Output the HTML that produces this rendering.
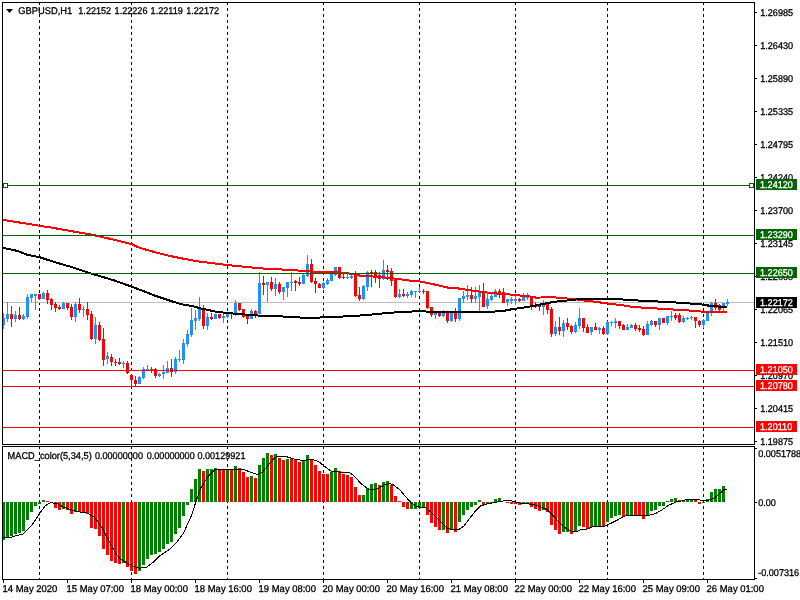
<!DOCTYPE html>
<html><head><meta charset="utf-8"><title>GBPUSD,H1</title>
<style>html,body{margin:0;padding:0;background:#fff;overflow:hidden}svg{display:block}text{font-family:"Liberation Sans",sans-serif;font-size:9.8px;fill:#000;stroke:#000;stroke-width:0.3px;text-rendering:geometricPrecision}.w{fill:#fff;stroke:#fff}</style></head><body>
<svg width="800" height="600" viewBox="0 0 800 600">
<rect width="800" height="600" fill="#fff"/>
<g shape-rendering="crispEdges">
<line x1="39.5" y1="2" x2="39.5" y2="444" stroke="#000" stroke-width="1" stroke-dasharray="3 3"/>
<line x1="39.5" y1="446" x2="39.5" y2="579" stroke="#000" stroke-width="1" stroke-dasharray="3 3" stroke-dashoffset="0"/>
<line x1="131.5" y1="2" x2="131.5" y2="444" stroke="#000" stroke-width="1" stroke-dasharray="3 3"/>
<line x1="131.5" y1="446" x2="131.5" y2="579" stroke="#000" stroke-width="1" stroke-dasharray="3 3" stroke-dashoffset="0"/>
<line x1="227.5" y1="2" x2="227.5" y2="444" stroke="#000" stroke-width="1" stroke-dasharray="3 3"/>
<line x1="227.5" y1="446" x2="227.5" y2="579" stroke="#000" stroke-width="1" stroke-dasharray="3 3" stroke-dashoffset="0"/>
<line x1="323.5" y1="2" x2="323.5" y2="444" stroke="#000" stroke-width="1" stroke-dasharray="3 3"/>
<line x1="323.5" y1="446" x2="323.5" y2="579" stroke="#000" stroke-width="1" stroke-dasharray="3 3" stroke-dashoffset="0"/>
<line x1="419.5" y1="2" x2="419.5" y2="444" stroke="#000" stroke-width="1" stroke-dasharray="3 3"/>
<line x1="419.5" y1="446" x2="419.5" y2="579" stroke="#000" stroke-width="1" stroke-dasharray="3 3" stroke-dashoffset="0"/>
<line x1="515.5" y1="2" x2="515.5" y2="444" stroke="#000" stroke-width="1" stroke-dasharray="3 3"/>
<line x1="515.5" y1="446" x2="515.5" y2="579" stroke="#000" stroke-width="1" stroke-dasharray="3 3" stroke-dashoffset="0"/>
<line x1="607.5" y1="2" x2="607.5" y2="444" stroke="#000" stroke-width="1" stroke-dasharray="3 3"/>
<line x1="607.5" y1="446" x2="607.5" y2="579" stroke="#000" stroke-width="1" stroke-dasharray="3 3" stroke-dashoffset="0"/>
<line x1="703.5" y1="2" x2="703.5" y2="444" stroke="#000" stroke-width="1" stroke-dasharray="3 3"/>
<line x1="703.5" y1="446" x2="703.5" y2="579" stroke="#000" stroke-width="1" stroke-dasharray="3 3" stroke-dashoffset="0"/>
<rect x="3" y="302" width="751" height="1" fill="#c0c0c0"/>
<rect x="3" y="313" width="1" height="16" fill="#1e90ff"/>
<rect x="3" y="318" width="2" height="7" fill="#1e90ff"/>
<rect x="7" y="302" width="1" height="20" fill="#1e90ff"/>
<rect x="6" y="314" width="3" height="5" fill="#1e90ff"/>
<rect x="11" y="306" width="1" height="21" fill="#ff0000"/>
<rect x="10" y="314" width="3" height="5" fill="#ff0000"/>
<rect x="15" y="311" width="1" height="11" fill="#1e90ff"/>
<rect x="14" y="315" width="3" height="4" fill="#1e90ff"/>
<rect x="19" y="307" width="1" height="13" fill="#ff0000"/>
<rect x="18" y="315" width="3" height="4" fill="#ff0000"/>
<rect x="23" y="314" width="1" height="6" fill="#1e90ff"/>
<rect x="22" y="316" width="3" height="3" fill="#1e90ff"/>
<rect x="27" y="294" width="1" height="25" fill="#1e90ff"/>
<rect x="26" y="297" width="3" height="20" fill="#1e90ff"/>
<rect x="31" y="294" width="1" height="8" fill="#1e90ff"/>
<rect x="30" y="294" width="3" height="4" fill="#1e90ff"/>
<rect x="35" y="294" width="1" height="16" fill="#1e90ff"/>
<rect x="34" y="294" width="3" height="2" fill="#1e90ff"/>
<rect x="39" y="294" width="1" height="6" fill="#ff0000"/>
<rect x="38" y="294" width="3" height="5" fill="#ff0000"/>
<rect x="43" y="292" width="1" height="7" fill="#1e90ff"/>
<rect x="42" y="293" width="3" height="6" fill="#1e90ff"/>
<rect x="47" y="290" width="1" height="14" fill="#ff0000"/>
<rect x="46" y="293" width="3" height="7" fill="#ff0000"/>
<rect x="51" y="298" width="1" height="12" fill="#ff0000"/>
<rect x="50" y="299" width="3" height="6" fill="#ff0000"/>
<rect x="55" y="302" width="1" height="10" fill="#ff0000"/>
<rect x="54" y="304" width="3" height="4" fill="#ff0000"/>
<rect x="59" y="305" width="1" height="5" fill="#ff0000"/>
<rect x="58" y="307" width="3" height="2" fill="#ff0000"/>
<rect x="63" y="302" width="1" height="7" fill="#1e90ff"/>
<rect x="62" y="303" width="3" height="6" fill="#1e90ff"/>
<rect x="67" y="303" width="1" height="7" fill="#ff0000"/>
<rect x="66" y="303" width="3" height="5" fill="#ff0000"/>
<rect x="71" y="304" width="1" height="16" fill="#ff0000"/>
<rect x="70" y="307" width="3" height="10" fill="#ff0000"/>
<rect x="75" y="302" width="1" height="20" fill="#1e90ff"/>
<rect x="74" y="304" width="3" height="13" fill="#1e90ff"/>
<rect x="79" y="298" width="1" height="15" fill="#ff0000"/>
<rect x="78" y="304" width="3" height="6" fill="#ff0000"/>
<rect x="83" y="306" width="1" height="11" fill="#1e90ff"/>
<rect x="82" y="309" width="3" height="1" fill="#1e90ff"/>
<rect x="87" y="302" width="1" height="18" fill="#ff0000"/>
<rect x="86" y="309" width="3" height="6" fill="#ff0000"/>
<rect x="91" y="311" width="1" height="29" fill="#ff0000"/>
<rect x="90" y="314" width="3" height="25" fill="#ff0000"/>
<rect x="95" y="317" width="1" height="27" fill="#1e90ff"/>
<rect x="94" y="325" width="3" height="14" fill="#1e90ff"/>
<rect x="99" y="322" width="1" height="19" fill="#ff0000"/>
<rect x="98" y="325" width="3" height="15" fill="#ff0000"/>
<rect x="103" y="328" width="1" height="38" fill="#ff0000"/>
<rect x="102" y="339" width="3" height="21" fill="#ff0000"/>
<rect x="107" y="352" width="1" height="12" fill="#1e90ff"/>
<rect x="106" y="356" width="3" height="3" fill="#1e90ff"/>
<rect x="111" y="354" width="1" height="12" fill="#ff0000"/>
<rect x="110" y="357" width="3" height="5" fill="#ff0000"/>
<rect x="115" y="359" width="1" height="7" fill="#ff0000"/>
<rect x="114" y="362" width="3" height="1" fill="#ff0000"/>
<rect x="119" y="358" width="1" height="7" fill="#ff0000"/>
<rect x="118" y="362" width="3" height="2" fill="#ff0000"/>
<rect x="123" y="361" width="1" height="7" fill="#1e90ff"/>
<rect x="122" y="363" width="3" height="1" fill="#1e90ff"/>
<rect x="127" y="361" width="1" height="13" fill="#ff0000"/>
<rect x="126" y="363" width="3" height="10" fill="#ff0000"/>
<rect x="131" y="374" width="1" height="13" fill="#ff0000"/>
<rect x="130" y="375" width="3" height="5" fill="#ff0000"/>
<rect x="135" y="376" width="1" height="10" fill="#ff0000"/>
<rect x="134" y="380" width="3" height="4" fill="#ff0000"/>
<rect x="139" y="376" width="1" height="8" fill="#1e90ff"/>
<rect x="138" y="377" width="3" height="7" fill="#1e90ff"/>
<rect x="143" y="367" width="1" height="12" fill="#1e90ff"/>
<rect x="142" y="369" width="3" height="9" fill="#1e90ff"/>
<rect x="147" y="365" width="1" height="5" fill="#1e90ff"/>
<rect x="146" y="369" width="3" height="1" fill="#1e90ff"/>
<rect x="151" y="367" width="1" height="6" fill="#ff0000"/>
<rect x="150" y="369" width="3" height="1" fill="#ff0000"/>
<rect x="155" y="368" width="1" height="10" fill="#ff0000"/>
<rect x="154" y="369" width="3" height="7" fill="#ff0000"/>
<rect x="159" y="373" width="1" height="4" fill="#1e90ff"/>
<rect x="158" y="374" width="3" height="2" fill="#1e90ff"/>
<rect x="163" y="365" width="1" height="14" fill="#1e90ff"/>
<rect x="162" y="372" width="3" height="2" fill="#1e90ff"/>
<rect x="167" y="361" width="1" height="12" fill="#1e90ff"/>
<rect x="166" y="368" width="3" height="5" fill="#1e90ff"/>
<rect x="171" y="359" width="1" height="18" fill="#ff0000"/>
<rect x="170" y="368" width="3" height="4" fill="#ff0000"/>
<rect x="175" y="357" width="1" height="17" fill="#1e90ff"/>
<rect x="174" y="359" width="3" height="13" fill="#1e90ff"/>
<rect x="179" y="350" width="1" height="12" fill="#1e90ff"/>
<rect x="178" y="359" width="3" height="1" fill="#1e90ff"/>
<rect x="183" y="339" width="1" height="25" fill="#1e90ff"/>
<rect x="182" y="343" width="3" height="17" fill="#1e90ff"/>
<rect x="187" y="330" width="1" height="17" fill="#1e90ff"/>
<rect x="186" y="334" width="3" height="10" fill="#1e90ff"/>
<rect x="191" y="308" width="1" height="29" fill="#1e90ff"/>
<rect x="190" y="320" width="3" height="15" fill="#1e90ff"/>
<rect x="195" y="310" width="1" height="20" fill="#1e90ff"/>
<rect x="194" y="318" width="3" height="3" fill="#1e90ff"/>
<rect x="199" y="297" width="1" height="24" fill="#1e90ff"/>
<rect x="198" y="308" width="3" height="11" fill="#1e90ff"/>
<rect x="203" y="305" width="1" height="24" fill="#ff0000"/>
<rect x="202" y="308" width="3" height="18" fill="#ff0000"/>
<rect x="207" y="313" width="1" height="17" fill="#1e90ff"/>
<rect x="206" y="317" width="3" height="9" fill="#1e90ff"/>
<rect x="211" y="313" width="1" height="7" fill="#ff0000"/>
<rect x="210" y="317" width="3" height="2" fill="#ff0000"/>
<rect x="215" y="314" width="1" height="5" fill="#1e90ff"/>
<rect x="214" y="314" width="3" height="5" fill="#1e90ff"/>
<rect x="219" y="314" width="1" height="5" fill="#ff0000"/>
<rect x="218" y="314" width="3" height="4" fill="#ff0000"/>
<rect x="223" y="314" width="1" height="9" fill="#1e90ff"/>
<rect x="222" y="316" width="3" height="2" fill="#1e90ff"/>
<rect x="227" y="313" width="1" height="5" fill="#1e90ff"/>
<rect x="226" y="314" width="3" height="3" fill="#1e90ff"/>
<rect x="231" y="314" width="1" height="5" fill="#ff0000"/>
<rect x="235" y="300" width="1" height="16" fill="#1e90ff"/>
<rect x="234" y="303" width="3" height="10" fill="#1e90ff"/>
<rect x="239" y="303" width="1" height="8" fill="#ff0000"/>
<rect x="238" y="303" width="3" height="7" fill="#ff0000"/>
<rect x="243" y="309" width="1" height="9" fill="#ff0000"/>
<rect x="242" y="309" width="3" height="8" fill="#ff0000"/>
<rect x="247" y="316" width="1" height="8" fill="#ff0000"/>
<rect x="246" y="316" width="3" height="3" fill="#ff0000"/>
<rect x="251" y="309" width="1" height="10" fill="#1e90ff"/>
<rect x="250" y="311" width="3" height="8" fill="#1e90ff"/>
<rect x="255" y="310" width="1" height="8" fill="#ff0000"/>
<rect x="254" y="311" width="3" height="3" fill="#ff0000"/>
<rect x="259" y="272" width="1" height="42" fill="#1e90ff"/>
<rect x="258" y="283" width="3" height="31" fill="#1e90ff"/>
<rect x="263" y="276" width="1" height="19" fill="#ff0000"/>
<rect x="262" y="283" width="3" height="2" fill="#ff0000"/>
<rect x="267" y="282" width="1" height="20" fill="#1e90ff"/>
<rect x="266" y="282" width="3" height="3" fill="#1e90ff"/>
<rect x="271" y="277" width="1" height="14" fill="#ff0000"/>
<rect x="270" y="282" width="3" height="7" fill="#ff0000"/>
<rect x="275" y="278" width="1" height="18" fill="#1e90ff"/>
<rect x="274" y="284" width="3" height="5" fill="#1e90ff"/>
<rect x="279" y="282" width="1" height="12" fill="#ff0000"/>
<rect x="278" y="284" width="3" height="8" fill="#ff0000"/>
<rect x="283" y="287" width="1" height="13" fill="#1e90ff"/>
<rect x="282" y="287" width="3" height="5" fill="#1e90ff"/>
<rect x="287" y="282" width="1" height="15" fill="#1e90ff"/>
<rect x="286" y="282" width="3" height="6" fill="#1e90ff"/>
<rect x="291" y="272" width="1" height="19" fill="#1e90ff"/>
<rect x="290" y="282" width="3" height="1" fill="#1e90ff"/>
<rect x="295" y="280" width="1" height="11" fill="#ff0000"/>
<rect x="294" y="281" width="3" height="2" fill="#ff0000"/>
<rect x="299" y="277" width="1" height="9" fill="#ff0000"/>
<rect x="298" y="282" width="3" height="2" fill="#ff0000"/>
<rect x="303" y="274" width="1" height="10" fill="#1e90ff"/>
<rect x="302" y="275" width="3" height="9" fill="#1e90ff"/>
<rect x="307" y="255" width="1" height="22" fill="#1e90ff"/>
<rect x="306" y="264" width="3" height="12" fill="#1e90ff"/>
<rect x="311" y="259" width="1" height="24" fill="#ff0000"/>
<rect x="310" y="264" width="3" height="18" fill="#ff0000"/>
<rect x="315" y="278" width="1" height="15" fill="#ff0000"/>
<rect x="314" y="281" width="3" height="3" fill="#ff0000"/>
<rect x="319" y="283" width="1" height="5" fill="#ff0000"/>
<rect x="318" y="284" width="3" height="4" fill="#ff0000"/>
<rect x="323" y="282" width="1" height="7" fill="#1e90ff"/>
<rect x="322" y="283" width="3" height="5" fill="#1e90ff"/>
<rect x="327" y="278" width="1" height="7" fill="#1e90ff"/>
<rect x="326" y="280" width="3" height="4" fill="#1e90ff"/>
<rect x="331" y="274" width="1" height="7" fill="#1e90ff"/>
<rect x="330" y="274" width="3" height="7" fill="#1e90ff"/>
<rect x="335" y="267" width="1" height="9" fill="#1e90ff"/>
<rect x="334" y="267" width="3" height="8" fill="#1e90ff"/>
<rect x="339" y="267" width="1" height="12" fill="#ff0000"/>
<rect x="338" y="267" width="3" height="11" fill="#ff0000"/>
<rect x="343" y="272" width="1" height="7" fill="#ff0000"/>
<rect x="342" y="277" width="3" height="1" fill="#ff0000"/>
<rect x="347" y="274" width="1" height="5" fill="#1e90ff"/>
<rect x="346" y="277" width="3" height="1" fill="#1e90ff"/>
<rect x="351" y="275" width="1" height="4" fill="#1e90ff"/>
<rect x="350" y="276" width="3" height="2" fill="#1e90ff"/>
<rect x="355" y="271" width="1" height="26" fill="#ff0000"/>
<rect x="354" y="274" width="3" height="22" fill="#ff0000"/>
<rect x="359" y="287" width="1" height="14" fill="#ff0000"/>
<rect x="358" y="295" width="3" height="4" fill="#ff0000"/>
<rect x="363" y="285" width="1" height="15" fill="#1e90ff"/>
<rect x="362" y="286" width="3" height="13" fill="#1e90ff"/>
<rect x="367" y="271" width="1" height="20" fill="#1e90ff"/>
<rect x="366" y="272" width="3" height="15" fill="#1e90ff"/>
<rect x="371" y="270" width="1" height="17" fill="#ff0000"/>
<rect x="370" y="272" width="3" height="2" fill="#ff0000"/>
<rect x="375" y="270" width="1" height="13" fill="#ff0000"/>
<rect x="374" y="272" width="3" height="6" fill="#ff0000"/>
<rect x="379" y="272" width="1" height="16" fill="#ff0000"/>
<rect x="378" y="275" width="3" height="4" fill="#ff0000"/>
<rect x="383" y="260" width="1" height="20" fill="#1e90ff"/>
<rect x="382" y="270" width="3" height="9" fill="#1e90ff"/>
<rect x="387" y="265" width="1" height="15" fill="#ff0000"/>
<rect x="386" y="270" width="3" height="2" fill="#ff0000"/>
<rect x="391" y="268" width="1" height="18" fill="#ff0000"/>
<rect x="390" y="271" width="3" height="10" fill="#ff0000"/>
<rect x="395" y="279" width="1" height="19" fill="#ff0000"/>
<rect x="394" y="279" width="3" height="18" fill="#ff0000"/>
<rect x="399" y="289" width="1" height="9" fill="#1e90ff"/>
<rect x="398" y="294" width="3" height="3" fill="#1e90ff"/>
<rect x="403" y="289" width="1" height="8" fill="#ff0000"/>
<rect x="402" y="294" width="3" height="2" fill="#ff0000"/>
<rect x="407" y="292" width="1" height="6" fill="#1e90ff"/>
<rect x="406" y="294" width="3" height="2" fill="#1e90ff"/>
<rect x="411" y="290" width="1" height="7" fill="#1e90ff"/>
<rect x="410" y="291" width="3" height="4" fill="#1e90ff"/>
<rect x="415" y="291" width="1" height="7" fill="#1e90ff"/>
<rect x="414" y="291" width="3" height="1" fill="#1e90ff"/>
<rect x="419" y="287" width="1" height="6" fill="#1e90ff"/>
<rect x="418" y="291" width="3" height="1" fill="#1e90ff"/>
<rect x="423" y="289" width="1" height="5" fill="#ff0000"/>
<rect x="422" y="291" width="3" height="1" fill="#ff0000"/>
<rect x="427" y="291" width="1" height="18" fill="#ff0000"/>
<rect x="426" y="291" width="3" height="17" fill="#ff0000"/>
<rect x="431" y="307" width="1" height="10" fill="#ff0000"/>
<rect x="430" y="307" width="3" height="8" fill="#ff0000"/>
<rect x="435" y="312" width="1" height="7" fill="#1e90ff"/>
<rect x="434" y="313" width="3" height="2" fill="#1e90ff"/>
<rect x="439" y="312" width="1" height="5" fill="#ff0000"/>
<rect x="438" y="313" width="3" height="3" fill="#ff0000"/>
<rect x="443" y="310" width="1" height="7" fill="#1e90ff"/>
<rect x="442" y="312" width="3" height="4" fill="#1e90ff"/>
<rect x="447" y="312" width="1" height="11" fill="#ff0000"/>
<rect x="446" y="313" width="3" height="8" fill="#ff0000"/>
<rect x="451" y="312" width="1" height="10" fill="#1e90ff"/>
<rect x="450" y="313" width="3" height="8" fill="#1e90ff"/>
<rect x="455" y="308" width="1" height="14" fill="#ff0000"/>
<rect x="454" y="312" width="3" height="7" fill="#ff0000"/>
<rect x="459" y="298" width="1" height="23" fill="#1e90ff"/>
<rect x="458" y="298" width="3" height="21" fill="#1e90ff"/>
<rect x="463" y="291" width="1" height="12" fill="#1e90ff"/>
<rect x="462" y="296" width="3" height="3" fill="#1e90ff"/>
<rect x="467" y="285" width="1" height="15" fill="#1e90ff"/>
<rect x="466" y="295" width="3" height="2" fill="#1e90ff"/>
<rect x="471" y="287" width="1" height="16" fill="#ff0000"/>
<rect x="470" y="295" width="3" height="4" fill="#ff0000"/>
<rect x="475" y="287" width="1" height="16" fill="#1e90ff"/>
<rect x="474" y="296" width="3" height="3" fill="#1e90ff"/>
<rect x="479" y="285" width="1" height="26" fill="#1e90ff"/>
<rect x="478" y="292" width="3" height="5" fill="#1e90ff"/>
<rect x="483" y="283" width="1" height="24" fill="#ff0000"/>
<rect x="482" y="292" width="3" height="15" fill="#ff0000"/>
<rect x="487" y="293" width="1" height="16" fill="#1e90ff"/>
<rect x="486" y="299" width="3" height="7" fill="#1e90ff"/>
<rect x="491" y="294" width="1" height="7" fill="#1e90ff"/>
<rect x="490" y="296" width="3" height="4" fill="#1e90ff"/>
<rect x="495" y="289" width="1" height="8" fill="#1e90ff"/>
<rect x="494" y="291" width="3" height="6" fill="#1e90ff"/>
<rect x="499" y="289" width="1" height="9" fill="#ff0000"/>
<rect x="498" y="291" width="3" height="2" fill="#ff0000"/>
<rect x="503" y="288" width="1" height="15" fill="#ff0000"/>
<rect x="502" y="292" width="3" height="11" fill="#ff0000"/>
<rect x="507" y="299" width="1" height="7" fill="#1e90ff"/>
<rect x="506" y="299" width="3" height="3" fill="#1e90ff"/>
<rect x="511" y="297" width="1" height="7" fill="#1e90ff"/>
<rect x="510" y="299" width="3" height="2" fill="#1e90ff"/>
<rect x="515" y="296" width="1" height="9" fill="#1e90ff"/>
<rect x="514" y="299" width="3" height="2" fill="#1e90ff"/>
<rect x="519" y="298" width="1" height="4" fill="#ff0000"/>
<rect x="518" y="299" width="3" height="2" fill="#ff0000"/>
<rect x="523" y="293" width="1" height="8" fill="#1e90ff"/>
<rect x="522" y="297" width="3" height="4" fill="#1e90ff"/>
<rect x="527" y="293" width="1" height="7" fill="#1e90ff"/>
<rect x="526" y="296" width="3" height="2" fill="#1e90ff"/>
<rect x="531" y="296" width="1" height="14" fill="#ff0000"/>
<rect x="530" y="296" width="3" height="10" fill="#ff0000"/>
<rect x="535" y="302" width="1" height="6" fill="#ff0000"/>
<rect x="534" y="305" width="3" height="2" fill="#ff0000"/>
<rect x="539" y="305" width="1" height="6" fill="#ff0000"/>
<rect x="538" y="306" width="3" height="1" fill="#ff0000"/>
<rect x="543" y="300" width="1" height="15" fill="#1e90ff"/>
<rect x="542" y="305" width="3" height="2" fill="#1e90ff"/>
<rect x="547" y="303" width="1" height="11" fill="#ff0000"/>
<rect x="546" y="304" width="3" height="6" fill="#ff0000"/>
<rect x="551" y="307" width="1" height="30" fill="#ff0000"/>
<rect x="550" y="309" width="3" height="25" fill="#ff0000"/>
<rect x="555" y="321" width="1" height="15" fill="#1e90ff"/>
<rect x="554" y="327" width="3" height="7" fill="#1e90ff"/>
<rect x="559" y="317" width="1" height="18" fill="#ff0000"/>
<rect x="558" y="327" width="3" height="4" fill="#ff0000"/>
<rect x="563" y="320" width="1" height="17" fill="#1e90ff"/>
<rect x="562" y="323" width="3" height="8" fill="#1e90ff"/>
<rect x="567" y="318" width="1" height="12" fill="#ff0000"/>
<rect x="566" y="323" width="3" height="4" fill="#ff0000"/>
<rect x="571" y="325" width="1" height="9" fill="#ff0000"/>
<rect x="570" y="326" width="3" height="6" fill="#ff0000"/>
<rect x="575" y="322" width="1" height="11" fill="#1e90ff"/>
<rect x="574" y="325" width="3" height="7" fill="#1e90ff"/>
<rect x="579" y="308" width="1" height="21" fill="#1e90ff"/>
<rect x="578" y="318" width="3" height="8" fill="#1e90ff"/>
<rect x="583" y="318" width="1" height="14" fill="#ff0000"/>
<rect x="582" y="318" width="3" height="10" fill="#ff0000"/>
<rect x="587" y="324" width="1" height="9" fill="#ff0000"/>
<rect x="586" y="327" width="3" height="6" fill="#ff0000"/>
<rect x="591" y="327" width="1" height="8" fill="#1e90ff"/>
<rect x="590" y="327" width="3" height="5" fill="#1e90ff"/>
<rect x="595" y="323" width="1" height="7" fill="#ff0000"/>
<rect x="594" y="327" width="3" height="3" fill="#ff0000"/>
<rect x="599" y="327" width="1" height="7" fill="#1e90ff"/>
<rect x="598" y="328" width="3" height="2" fill="#1e90ff"/>
<rect x="603" y="326" width="1" height="9" fill="#ff0000"/>
<rect x="602" y="328" width="3" height="6" fill="#ff0000"/>
<rect x="607" y="321" width="1" height="14" fill="#1e90ff"/>
<rect x="606" y="322" width="3" height="12" fill="#1e90ff"/>
<rect x="611" y="321" width="1" height="5" fill="#1e90ff"/>
<rect x="610" y="322" width="3" height="1" fill="#1e90ff"/>
<rect x="615" y="318" width="1" height="10" fill="#1e90ff"/>
<rect x="614" y="321" width="3" height="2" fill="#1e90ff"/>
<rect x="619" y="321" width="1" height="8" fill="#ff0000"/>
<rect x="618" y="321" width="3" height="5" fill="#ff0000"/>
<rect x="623" y="324" width="1" height="6" fill="#ff0000"/>
<rect x="622" y="325" width="3" height="5" fill="#ff0000"/>
<rect x="627" y="324" width="1" height="6" fill="#1e90ff"/>
<rect x="626" y="327" width="3" height="3" fill="#1e90ff"/>
<rect x="631" y="324" width="1" height="4" fill="#1e90ff"/>
<rect x="630" y="325" width="3" height="3" fill="#1e90ff"/>
<rect x="635" y="323" width="1" height="8" fill="#ff0000"/>
<rect x="634" y="325" width="3" height="4" fill="#ff0000"/>
<rect x="639" y="325" width="1" height="7" fill="#ff0000"/>
<rect x="638" y="328" width="3" height="2" fill="#ff0000"/>
<rect x="643" y="326" width="1" height="10" fill="#ff0000"/>
<rect x="642" y="329" width="3" height="6" fill="#ff0000"/>
<rect x="647" y="321" width="1" height="14" fill="#1e90ff"/>
<rect x="646" y="324" width="3" height="11" fill="#1e90ff"/>
<rect x="651" y="320" width="1" height="6" fill="#1e90ff"/>
<rect x="650" y="321" width="3" height="4" fill="#1e90ff"/>
<rect x="655" y="321" width="1" height="6" fill="#ff0000"/>
<rect x="654" y="321" width="3" height="4" fill="#ff0000"/>
<rect x="659" y="318" width="1" height="12" fill="#1e90ff"/>
<rect x="658" y="318" width="3" height="7" fill="#1e90ff"/>
<rect x="663" y="318" width="1" height="5" fill="#ff0000"/>
<rect x="662" y="318" width="3" height="5" fill="#ff0000"/>
<rect x="667" y="316" width="1" height="9" fill="#1e90ff"/>
<rect x="666" y="316" width="3" height="7" fill="#1e90ff"/>
<rect x="671" y="311" width="1" height="10" fill="#1e90ff"/>
<rect x="670" y="316" width="3" height="1" fill="#1e90ff"/>
<rect x="675" y="313" width="1" height="7" fill="#ff0000"/>
<rect x="674" y="315" width="3" height="3" fill="#ff0000"/>
<rect x="679" y="313" width="1" height="10" fill="#ff0000"/>
<rect x="678" y="315" width="3" height="7" fill="#ff0000"/>
<rect x="683" y="316" width="1" height="7" fill="#1e90ff"/>
<rect x="682" y="318" width="3" height="4" fill="#1e90ff"/>
<rect x="687" y="317" width="1" height="3" fill="#1e90ff"/>
<rect x="686" y="318" width="3" height="1" fill="#1e90ff"/>
<rect x="691" y="316" width="1" height="4" fill="#1e90ff"/>
<rect x="690" y="317" width="3" height="1" fill="#1e90ff"/>
<rect x="695" y="317" width="1" height="11" fill="#ff0000"/>
<rect x="694" y="317" width="3" height="4" fill="#ff0000"/>
<rect x="699" y="320" width="1" height="7" fill="#ff0000"/>
<rect x="698" y="321" width="3" height="4" fill="#ff0000"/>
<rect x="703" y="319" width="1" height="9" fill="#1e90ff"/>
<rect x="702" y="320" width="3" height="5" fill="#1e90ff"/>
<rect x="707" y="313" width="1" height="8" fill="#1e90ff"/>
<rect x="706" y="313" width="3" height="8" fill="#1e90ff"/>
<rect x="711" y="302" width="1" height="14" fill="#1e90ff"/>
<rect x="710" y="303" width="3" height="8" fill="#1e90ff"/>
<rect x="715" y="299" width="1" height="11" fill="#ff0000"/>
<rect x="714" y="303" width="3" height="5" fill="#ff0000"/>
<rect x="719" y="304" width="1" height="7" fill="#ff0000"/>
<rect x="718" y="305" width="3" height="5" fill="#ff0000"/>
<rect x="723" y="303" width="1" height="8" fill="#1e90ff"/>
<rect x="722" y="303" width="3" height="3" fill="#1e90ff"/>
<rect x="727" y="299" width="1" height="7" fill="#1e90ff"/>
<rect x="726" y="302" width="3" height="2" fill="#1e90ff"/>
</g>
<g shape-rendering="crispEdges">
<polyline fill="none" stroke="#ff0000" stroke-width="2" stroke-linejoin="round" points="3,219.9 17.5,222.2 39.4,225.7 52.5,227.8 70,230.9 87.5,233.9 96,235.6 113.8,239.7 131,243.9 140,248 155,252.2 170,256 185,259 200,261.7 215,263.5 227.5,265 245,266.8 260,268.3 275,269.2 292,270 303,271 316,272 340,272.5 353,274 360,275.6 380,277 398,279 410,280.6 420,281.5 435,284.6 448,287.6 456,288.1 468,290 480,291.6 492,293.1 505,294.1 515,295 528,296.2 536,297.6 553,297.25 561,298 573,299 585,300.6 597,302 609,303.7 621,305 633,307 649,308 665,309 681,310 697,311 705,312 727,312"/>
<polyline fill="none" stroke="#000" stroke-width="2" stroke-linejoin="round" points="3,247.9 17.5,250.9 26,254.4 39.4,257.2 52.5,261.4 70,266.6 87.5,272.4 96,275 113.8,280.3 131,286.4 140,289.8 155,295.7 170,300.7 180.5,304 192.5,306.2 200,308.2 215,311.5 227.5,313 245,314.5 260,315.7 280,316.3 300,317.5 320,317.5 340,316.7 360,315.5 370,314.7 390,312.7 405,312 420,311 432,312 460,312 488,312 503,311 513,309 523,307.7 533,306 543,304 553,302 561,301 573,300 581,298.7 616,298.7 628,300 648,301 668,302 684,303 696,304 708,305 708,306 727,307"/>
</g>
<g shape-rendering="crispEdges">
<rect x="3" y="185" width="751" height="1" fill="#006400"/>
<rect x="3" y="235" width="751" height="1" fill="#006400"/>
<rect x="3" y="273" width="751" height="1" fill="#006400"/>
<rect x="3" y="370" width="751" height="1" fill="#ff0000"/>
<rect x="3" y="386" width="751" height="1" fill="#ff0000"/>
<rect x="3" y="427" width="751" height="1" fill="#ff0000"/>
<rect x="3.5" y="183.5" width="4" height="4" fill="#fff" stroke="#006400" stroke-width="1"/>
<rect x="749.5" y="183.5" width="4" height="4" fill="#fff" stroke="#006400" stroke-width="1"/>
<rect x="3" y="502" width="2" height="38" fill="#008000"/>
<rect x="6" y="502" width="3" height="35" fill="#008000"/>
<rect x="10" y="502" width="3" height="34" fill="#008000"/>
<rect x="14" y="502" width="3" height="32" fill="#008000"/>
<rect x="18" y="502" width="3" height="31" fill="#008000"/>
<rect x="22" y="502" width="3" height="29" fill="#008000"/>
<rect x="26" y="502" width="3" height="18" fill="#008000"/>
<rect x="30" y="502" width="3" height="10" fill="#008000"/>
<rect x="34" y="502" width="3" height="4" fill="#008000"/>
<rect x="38" y="502" width="3" height="2" fill="#008000"/>
<rect x="42" y="500" width="3" height="2" fill="#008000"/>
<rect x="46" y="501" width="3" height="1" fill="#ff0000"/>
<rect x="50" y="502" width="3" height="1" fill="#ff0000"/>
<rect x="54" y="502" width="3" height="6" fill="#ff0000"/>
<rect x="58" y="502" width="3" height="8" fill="#ff0000"/>
<rect x="62" y="502" width="3" height="7" fill="#008000"/>
<rect x="66" y="502" width="3" height="8" fill="#ff0000"/>
<rect x="70" y="502" width="3" height="12" fill="#ff0000"/>
<rect x="74" y="502" width="3" height="10" fill="#008000"/>
<rect x="78" y="502" width="3" height="10" fill="#ff0000"/>
<rect x="82" y="502" width="3" height="11" fill="#ff0000"/>
<rect x="86" y="502" width="3" height="12" fill="#ff0000"/>
<rect x="90" y="502" width="3" height="26" fill="#ff0000"/>
<rect x="94" y="502" width="3" height="27" fill="#ff0000"/>
<rect x="98" y="502" width="3" height="34" fill="#ff0000"/>
<rect x="102" y="502" width="3" height="47" fill="#ff0000"/>
<rect x="106" y="502" width="3" height="53" fill="#ff0000"/>
<rect x="110" y="502" width="3" height="59" fill="#ff0000"/>
<rect x="114" y="502" width="3" height="61" fill="#ff0000"/>
<rect x="118" y="502" width="3" height="62" fill="#ff0000"/>
<rect x="122" y="502" width="3" height="61" fill="#008000"/>
<rect x="126" y="502" width="3" height="65" fill="#ff0000"/>
<rect x="130" y="502" width="3" height="69" fill="#ff0000"/>
<rect x="134" y="502" width="3" height="72" fill="#ff0000"/>
<rect x="138" y="502" width="3" height="69" fill="#008000"/>
<rect x="142" y="502" width="3" height="63" fill="#008000"/>
<rect x="146" y="502" width="3" height="57" fill="#008000"/>
<rect x="150" y="502" width="3" height="53" fill="#008000"/>
<rect x="154" y="502" width="3" height="52" fill="#008000"/>
<rect x="158" y="502" width="3" height="50" fill="#008000"/>
<rect x="162" y="502" width="3" height="47" fill="#008000"/>
<rect x="166" y="502" width="3" height="42" fill="#008000"/>
<rect x="170" y="502" width="3" height="40" fill="#008000"/>
<rect x="174" y="502" width="3" height="32" fill="#008000"/>
<rect x="178" y="502" width="3" height="26" fill="#008000"/>
<rect x="182" y="502" width="3" height="14" fill="#008000"/>
<rect x="186" y="502" width="3" height="3" fill="#008000"/>
<rect x="190" y="489" width="3" height="13" fill="#008000"/>
<rect x="194" y="479" width="3" height="23" fill="#008000"/>
<rect x="198" y="469" width="3" height="33" fill="#008000"/>
<rect x="202" y="471" width="3" height="31" fill="#ff0000"/>
<rect x="206" y="469" width="3" height="33" fill="#008000"/>
<rect x="210" y="469" width="3" height="33" fill="#008000"/>
<rect x="214" y="468" width="3" height="34" fill="#008000"/>
<rect x="218" y="470" width="3" height="32" fill="#ff0000"/>
<rect x="222" y="470" width="3" height="32" fill="#ff0000"/>
<rect x="226" y="470" width="3" height="32" fill="#008000"/>
<rect x="230" y="470" width="3" height="32" fill="#ff0000"/>
<rect x="234" y="466" width="3" height="36" fill="#008000"/>
<rect x="238" y="468" width="3" height="34" fill="#ff0000"/>
<rect x="242" y="472" width="3" height="30" fill="#ff0000"/>
<rect x="246" y="477" width="3" height="25" fill="#ff0000"/>
<rect x="250" y="476" width="3" height="26" fill="#008000"/>
<rect x="254" y="478" width="3" height="24" fill="#ff0000"/>
<rect x="258" y="465" width="3" height="37" fill="#008000"/>
<rect x="262" y="458" width="3" height="44" fill="#008000"/>
<rect x="266" y="453" width="3" height="49" fill="#008000"/>
<rect x="270" y="455" width="3" height="47" fill="#ff0000"/>
<rect x="274" y="454" width="3" height="48" fill="#008000"/>
<rect x="278" y="458" width="3" height="44" fill="#ff0000"/>
<rect x="282" y="460" width="3" height="42" fill="#ff0000"/>
<rect x="286" y="459" width="3" height="43" fill="#008000"/>
<rect x="290" y="458" width="3" height="44" fill="#ff0000"/>
<rect x="294" y="460" width="3" height="42" fill="#ff0000"/>
<rect x="298" y="462" width="3" height="40" fill="#ff0000"/>
<rect x="302" y="461" width="3" height="41" fill="#008000"/>
<rect x="306" y="455" width="3" height="47" fill="#008000"/>
<rect x="310" y="460" width="3" height="42" fill="#ff0000"/>
<rect x="314" y="465" width="3" height="37" fill="#ff0000"/>
<rect x="318" y="471" width="3" height="31" fill="#ff0000"/>
<rect x="322" y="474" width="3" height="28" fill="#ff0000"/>
<rect x="326" y="474" width="3" height="28" fill="#ff0000"/>
<rect x="330" y="472" width="3" height="30" fill="#008000"/>
<rect x="334" y="468" width="3" height="34" fill="#008000"/>
<rect x="338" y="471" width="3" height="31" fill="#ff0000"/>
<rect x="342" y="474" width="3" height="28" fill="#ff0000"/>
<rect x="346" y="475" width="3" height="27" fill="#ff0000"/>
<rect x="350" y="477" width="3" height="25" fill="#ff0000"/>
<rect x="354" y="487" width="3" height="15" fill="#ff0000"/>
<rect x="358" y="495" width="3" height="7" fill="#ff0000"/>
<rect x="362" y="495" width="3" height="7" fill="#008000"/>
<rect x="366" y="488" width="3" height="14" fill="#008000"/>
<rect x="370" y="484" width="3" height="18" fill="#008000"/>
<rect x="374" y="483" width="3" height="19" fill="#008000"/>
<rect x="378" y="485" width="3" height="17" fill="#ff0000"/>
<rect x="382" y="482" width="3" height="20" fill="#008000"/>
<rect x="386" y="481" width="3" height="21" fill="#008000"/>
<rect x="390" y="485" width="3" height="17" fill="#ff0000"/>
<rect x="394" y="496" width="3" height="6" fill="#ff0000"/>
<rect x="398" y="501" width="3" height="1" fill="#ff0000"/>
<rect x="402" y="502" width="3" height="5" fill="#ff0000"/>
<rect x="406" y="502" width="3" height="7" fill="#ff0000"/>
<rect x="410" y="502" width="3" height="7" fill="#008000"/>
<rect x="414" y="502" width="3" height="7" fill="#008000"/>
<rect x="418" y="502" width="3" height="6" fill="#008000"/>
<rect x="422" y="502" width="3" height="5" fill="#008000"/>
<rect x="426" y="502" width="3" height="13" fill="#ff0000"/>
<rect x="430" y="502" width="3" height="21" fill="#ff0000"/>
<rect x="434" y="502" width="3" height="25" fill="#ff0000"/>
<rect x="438" y="502" width="3" height="28" fill="#ff0000"/>
<rect x="442" y="502" width="3" height="28" fill="#008000"/>
<rect x="446" y="502" width="3" height="31" fill="#ff0000"/>
<rect x="450" y="502" width="3" height="28" fill="#008000"/>
<rect x="454" y="502" width="3" height="30" fill="#ff0000"/>
<rect x="458" y="502" width="3" height="20" fill="#008000"/>
<rect x="462" y="502" width="3" height="13" fill="#008000"/>
<rect x="466" y="502" width="3" height="8" fill="#008000"/>
<rect x="470" y="502" width="3" height="5" fill="#008000"/>
<rect x="474" y="502" width="3" height="3" fill="#008000"/>
<rect x="478" y="500" width="3" height="2" fill="#008000"/>
<rect x="482" y="502" width="3" height="3" fill="#ff0000"/>
<rect x="486" y="502" width="3" height="2" fill="#008000"/>
<rect x="490" y="502" width="3" height="1" fill="#008000"/>
<rect x="494" y="499" width="3" height="3" fill="#008000"/>
<rect x="498" y="498" width="3" height="4" fill="#008000"/>
<rect x="506" y="502" width="3" height="1" fill="#ff0000"/>
<rect x="510" y="502" width="3" height="2" fill="#ff0000"/>
<rect x="514" y="502" width="3" height="2" fill="#ff0000"/>
<rect x="518" y="502" width="3" height="3" fill="#ff0000"/>
<rect x="522" y="502" width="3" height="1" fill="#008000"/>
<rect x="526" y="502" width="3" height="1" fill="#008000"/>
<rect x="530" y="502" width="3" height="5" fill="#ff0000"/>
<rect x="534" y="502" width="3" height="7" fill="#ff0000"/>
<rect x="538" y="502" width="3" height="9" fill="#ff0000"/>
<rect x="542" y="502" width="3" height="8" fill="#008000"/>
<rect x="546" y="502" width="3" height="10" fill="#ff0000"/>
<rect x="550" y="502" width="3" height="23" fill="#ff0000"/>
<rect x="554" y="502" width="3" height="28" fill="#ff0000"/>
<rect x="558" y="502" width="3" height="32" fill="#ff0000"/>
<rect x="562" y="502" width="3" height="30" fill="#008000"/>
<rect x="566" y="502" width="3" height="30" fill="#008000"/>
<rect x="570" y="502" width="3" height="32" fill="#ff0000"/>
<rect x="574" y="502" width="3" height="30" fill="#008000"/>
<rect x="578" y="502" width="3" height="24" fill="#008000"/>
<rect x="582" y="502" width="3" height="25" fill="#ff0000"/>
<rect x="586" y="502" width="3" height="27" fill="#ff0000"/>
<rect x="590" y="502" width="3" height="25" fill="#008000"/>
<rect x="594" y="502" width="3" height="24" fill="#008000"/>
<rect x="598" y="502" width="3" height="24" fill="#008000"/>
<rect x="602" y="502" width="3" height="24" fill="#ff0000"/>
<rect x="606" y="502" width="3" height="20" fill="#008000"/>
<rect x="610" y="502" width="3" height="16" fill="#008000"/>
<rect x="614" y="502" width="3" height="14" fill="#008000"/>
<rect x="618" y="502" width="3" height="13" fill="#008000"/>
<rect x="622" y="502" width="3" height="15" fill="#ff0000"/>
<rect x="626" y="502" width="3" height="13" fill="#008000"/>
<rect x="630" y="502" width="3" height="13" fill="#008000"/>
<rect x="634" y="502" width="3" height="13" fill="#ff0000"/>
<rect x="638" y="502" width="3" height="13" fill="#ff0000"/>
<rect x="642" y="502" width="3" height="17" fill="#ff0000"/>
<rect x="646" y="502" width="3" height="13" fill="#008000"/>
<rect x="650" y="502" width="3" height="9" fill="#008000"/>
<rect x="654" y="502" width="3" height="8" fill="#008000"/>
<rect x="658" y="502" width="3" height="4" fill="#008000"/>
<rect x="662" y="502" width="3" height="4" fill="#008000"/>
<rect x="666" y="501" width="3" height="1" fill="#008000"/>
<rect x="670" y="499" width="3" height="3" fill="#008000"/>
<rect x="674" y="498" width="3" height="4" fill="#008000"/>
<rect x="678" y="500" width="3" height="2" fill="#ff0000"/>
<rect x="682" y="500" width="3" height="2" fill="#008000"/>
<rect x="686" y="500" width="3" height="2" fill="#008000"/>
<rect x="690" y="500" width="3" height="2" fill="#008000"/>
<rect x="694" y="500" width="3" height="2" fill="#ff0000"/>
<rect x="698" y="502" width="3" height="2" fill="#ff0000"/>
<rect x="702" y="502" width="3" height="1" fill="#008000"/>
<rect x="706" y="499" width="3" height="3" fill="#008000"/>
<rect x="710" y="492" width="3" height="10" fill="#008000"/>
<rect x="714" y="489" width="3" height="13" fill="#008000"/>
<rect x="718" y="489" width="3" height="13" fill="#008000"/>
<rect x="722" y="486" width="3" height="16" fill="#008000"/>
</g>
<g shape-rendering="crispEdges">
<polyline fill="none" stroke="#000" stroke-width="1" stroke-linejoin="round" points="3.3,537.6 11.7,537 23.5,533.8 31.8,525.4 39.5,513.7 45,506 50,502.8 57,503.3 63.6,507.3 70,509.5 77,511.7 87,512.8 93.8,517 96.7,520.2 101.7,526.9 108.4,540.3 115,552 120,558.7 126.9,562.9 133.5,566.2 140,568.2 147,567 153.6,562 160.3,555.4 170.4,548.7 177,542 183.8,532.7 186,527.5 190.5,518 192.7,512 195.5,503 196.5,500 201,487.5 204,483 207.8,476.8 214.5,470 219.5,469.3 243,469.3 249.6,471.8 258,474.8 263,471.8 269.7,463.4 274.8,457.6 278,456.4 286.5,456.7 295,459.2 303,460.4 311.6,459.2 314,460 319,461.8 324,466 330.8,471 339,472 349,472 354,476 361,483.5 367.6,488.6 371.8,490 377.7,488.6 384.4,484.9 389.4,483.5 392.7,484.4 399.4,489.4 406,497 411,502.8 416,506 421,507.3 425.4,507.8 431,512 438,518.7 442,522.8 447,528.3 452,529.5 458.8,529.5 463.8,526 468.8,519.4 475.5,511 480.5,506 487,503.9 495.6,502.2 505.7,500.5 510.7,500.7 515.7,502.2 522.4,503.5 529,503.9 535.8,505.2 542.5,507.7 547.5,509.9 552.6,514.9 559,522 566,528.6 571,531 575,532 581.7,529.5 586.7,529 593.4,526.6 605,526 612,522.8 618.6,519.4 625,516 630,515.3 648.7,515.3 655.4,513.6 662,509.9 668.8,505.2 675.5,502.2 682,500.7 687,499.5 697.8,499.4 703.5,501 709.5,500 714.6,497.8 719.6,493.6 723.8,489.9 727,488.9"/>
<rect x="2" y="2" width="753" height="1" fill="#000"/>
<rect x="2" y="2" width="1" height="443" fill="#000"/>
<rect x="2" y="444" width="753" height="1" fill="#000"/>
<rect x="2" y="446" width="753" height="1" fill="#000"/>
<rect x="2" y="446" width="1" height="134" fill="#000"/>
<rect x="2" y="579" width="753" height="1" fill="#000"/>
<rect x="754" y="2" width="1" height="443" fill="#000"/>
<rect x="754" y="446" width="1" height="134" fill="#000"/>
<rect x="755" y="12" width="2" height="1" fill="#000"/>
<rect x="755" y="45" width="2" height="1" fill="#000"/>
<rect x="755" y="78" width="2" height="1" fill="#000"/>
<rect x="755" y="111" width="2" height="1" fill="#000"/>
<rect x="755" y="144" width="2" height="1" fill="#000"/>
<rect x="755" y="177" width="2" height="1" fill="#000"/>
<rect x="755" y="210" width="2" height="1" fill="#000"/>
<rect x="755" y="243" width="2" height="1" fill="#000"/>
<rect x="755" y="276" width="2" height="1" fill="#000"/>
<rect x="755" y="309" width="2" height="1" fill="#000"/>
<rect x="755" y="342" width="2" height="1" fill="#000"/>
<rect x="755" y="375" width="2" height="1" fill="#000"/>
<rect x="755" y="408" width="2" height="1" fill="#000"/>
<rect x="755" y="441" width="2" height="1" fill="#000"/>
<rect x="755" y="448" width="2" height="1" fill="#000"/>
<rect x="755" y="502" width="2" height="1" fill="#000"/>
<rect x="755" y="578" width="2" height="1" fill="#000"/>
<rect x="3" y="580" width="1" height="3" fill="#000"/>
<rect x="67" y="580" width="1" height="3" fill="#000"/>
<rect x="131" y="580" width="1" height="3" fill="#000"/>
<rect x="195" y="580" width="1" height="3" fill="#000"/>
<rect x="259" y="580" width="1" height="3" fill="#000"/>
<rect x="323" y="580" width="1" height="3" fill="#000"/>
<rect x="387" y="580" width="1" height="3" fill="#000"/>
<rect x="451" y="580" width="1" height="3" fill="#000"/>
<rect x="515" y="580" width="1" height="3" fill="#000"/>
<rect x="579" y="580" width="1" height="3" fill="#000"/>
<rect x="643" y="580" width="1" height="3" fill="#000"/>
<rect x="707" y="580" width="1" height="3" fill="#000"/>
</g>
<path d="M6 9h7l-3.5 4z" fill="#000"/>
<text transform="translate(18.2 14) scale(0.955 1)">GBPUSD,H1</text>
<text transform="translate(78.3 14) scale(0.928 1)">1.22152</text>
<text transform="translate(114.6 14) scale(0.928 1)">1.22226</text>
<text transform="translate(150.6 14) scale(0.928 1)">1.22119</text>
<text transform="translate(186.2 14) scale(0.928 1)">1.22172</text>
<text transform="translate(7.6 459) scale(0.942 1)">MACD_color(5,34,5)</text>
<text transform="translate(94.9 459) scale(0.928 1)">0.00000000</text>
<text transform="translate(146.7 459) scale(0.928 1)">0.00000000</text>
<text transform="translate(197.4 459) scale(0.928 1)">0.00129921</text>
<text transform="translate(760.2 15.7) scale(0.928 1)">1.26985</text>
<text transform="translate(760.2 48.7) scale(0.928 1)">1.26430</text>
<text transform="translate(760.2 81.7) scale(0.928 1)">1.25890</text>
<text transform="translate(760.2 114.7) scale(0.928 1)">1.25335</text>
<text transform="translate(760.2 147.7) scale(0.928 1)">1.24795</text>
<text transform="translate(760.2 180.7) scale(0.928 1)">1.24240</text>
<text transform="translate(760.2 213.7) scale(0.928 1)">1.23700</text>
<text transform="translate(760.2 246.7) scale(0.928 1)">1.23145</text>
<text transform="translate(760.2 279.7) scale(0.928 1)">1.22605</text>
<text transform="translate(760.2 312.7) scale(0.928 1)">1.22065</text>
<text transform="translate(760.2 345.7) scale(0.928 1)">1.21510</text>
<text transform="translate(760.2 378.7) scale(0.928 1)">1.20970</text>
<text transform="translate(760.2 411.7) scale(0.928 1)">1.20415</text>
<text transform="translate(760.2 444.7) scale(0.928 1)">1.19875</text>
<text transform="translate(758.2 457) scale(0.928 1)">0.0051788</text>
<text transform="translate(758.2 506) scale(0.928 1)">0.00</text>
<text transform="translate(758.2 576) scale(0.928 1)">-0.007316</text>
<rect x="756" y="179" width="41" height="11" fill="#006400" shape-rendering="crispEdges"/>
<text transform="translate(760 188) scale(0.928 1)" class="w">1.24120</text>
<rect x="756" y="229" width="41" height="11" fill="#006400" shape-rendering="crispEdges"/>
<text transform="translate(760 238) scale(0.928 1)" class="w">1.23290</text>
<rect x="756" y="267" width="41" height="11" fill="#006400" shape-rendering="crispEdges"/>
<text transform="translate(760 276) scale(0.928 1)" class="w">1.22650</text>
<rect x="756" y="364" width="41" height="11" fill="#ff0000" shape-rendering="crispEdges"/>
<text transform="translate(760 373) scale(0.928 1)" class="w">1.21050</text>
<rect x="756" y="380" width="41" height="11" fill="#ff0000" shape-rendering="crispEdges"/>
<text transform="translate(760 389) scale(0.928 1)" class="w">1.20780</text>
<rect x="756" y="421" width="41" height="11" fill="#ff0000" shape-rendering="crispEdges"/>
<text transform="translate(760 430) scale(0.928 1)" class="w">1.20110</text>
<rect x="756" y="297" width="41" height="11" fill="#000" shape-rendering="crispEdges"/>
<text transform="translate(760 306) scale(0.928 1)" class="w">1.22172</text>
<text transform="translate(2.6 592) scale(0.965 1)">14 May 2020</text>
<text transform="translate(66.6 592) scale(0.965 1)">15 May 07:00</text>
<text transform="translate(130.6 592) scale(0.965 1)">18 May 00:00</text>
<text transform="translate(194.6 592) scale(0.965 1)">18 May 16:00</text>
<text transform="translate(258.6 592) scale(0.965 1)">19 May 08:00</text>
<text transform="translate(322.6 592) scale(0.965 1)">20 May 00:00</text>
<text transform="translate(386.6 592) scale(0.965 1)">20 May 16:00</text>
<text transform="translate(450.6 592) scale(0.965 1)">21 May 08:00</text>
<text transform="translate(514.6 592) scale(0.965 1)">22 May 00:00</text>
<text transform="translate(578.6 592) scale(0.965 1)">22 May 16:00</text>
<text transform="translate(642.6 592) scale(0.965 1)">25 May 09:00</text>
<text transform="translate(706.6 592) scale(0.965 1)">26 May 01:00</text>
</svg></body></html>
